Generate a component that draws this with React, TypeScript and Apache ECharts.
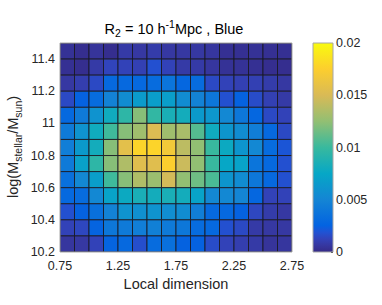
import React, { useEffect, useRef } from 'react';
import * as echarts from 'echarts';

// ---- data ----
const xBinStart = [0.75, 0.875, 1.0, 1.125, 1.25, 1.375, 1.5, 1.625, 1.75, 1.875, 2.0, 2.125, 2.25, 2.375, 2.5, 2.625];
const xBinWidth = 0.125;
// rows listed top (11.4) to bottom (10.2)
const yBinStart = [11.4, 11.3, 11.2, 11.1, 11.0, 10.9, 10.8, 10.7, 10.6, 10.5, 10.4, 10.3, 10.2];
const yBinHeight = 0.1;

const row_11_4 = [0.0004, 0.0002, 0.0005, 0.0002, 0.0008, 0.0007, 0.0009, 0.0007, 0.0007, 0.0007, 0.0006, 0.0003, 0.0003, 0.0004, 0.0003, 0.0003];
const row_11_3 = [0.0003, 0.0002, 0.0008, 0.0013, 0.0012, 0.0011, 0.0018, 0.0012, 0.0008, 0.0008, 0.0006, 0.0004, 0.0004, 0.0003, 0.0002, 0.0002];
const row_11_2 = [0.0007, 0.001, 0.0015, 0.003, 0.003, 0.003, 0.0032, 0.0038, 0.0028, 0.0032, 0.0015, 0.0012, 0.0011, 0.0011, 0.0009, 0.0007];
const row_11_1 = [0.0015, 0.0025, 0.0032, 0.0048, 0.0055, 0.0066, 0.0068, 0.0068, 0.0055, 0.0048, 0.004, 0.0018, 0.0025, 0.0016, 0.0011, 0.0008];
const row_11_0 = [0.003, 0.0042, 0.006, 0.008, 0.0095, 0.0122, 0.0097, 0.0085, 0.0082, 0.0065, 0.0063, 0.0052, 0.004, 0.0028, 0.0015, 0.0012];
const row_10_9 = [0.0042, 0.006, 0.008, 0.0102, 0.0122, 0.013, 0.0152, 0.013, 0.0133, 0.0108, 0.008, 0.0062, 0.0055, 0.0045, 0.003, 0.0015];
const row_10_8 = [0.0045, 0.0065, 0.0082, 0.0122, 0.0157, 0.0178, 0.0178, 0.0168, 0.014, 0.0125, 0.01, 0.0078, 0.0062, 0.0052, 0.0032, 0.002];
const row_10_7 = [0.0042, 0.007, 0.0095, 0.0122, 0.0135, 0.0155, 0.0155, 0.0175, 0.0145, 0.0125, 0.01, 0.0075, 0.0072, 0.0038, 0.003, 0.0018];
const row_10_6 = [0.0035, 0.0052, 0.0068, 0.0102, 0.0122, 0.0135, 0.0128, 0.0148, 0.0125, 0.0115, 0.0105, 0.0062, 0.0055, 0.004, 0.003, 0.0018];
const row_10_5 = [0.003, 0.0032, 0.0052, 0.0072, 0.0078, 0.0085, 0.0082, 0.0085, 0.0082, 0.0072, 0.0052, 0.0052, 0.005, 0.0028, 0.0012, 0.0012];
const row_10_4 = [0.0018, 0.0025, 0.0035, 0.0048, 0.006, 0.0058, 0.006, 0.0056, 0.0055, 0.0045, 0.003, 0.003, 0.0025, 0.0014, 0.0009, 0.0007];
const row_10_3 = [0.0012, 0.0014, 0.0026, 0.004, 0.0042, 0.0045, 0.0046, 0.0042, 0.004, 0.0032, 0.003, 0.0018, 0.0015, 0.0008, 0.0007, 0.0007];
const row_10_2 = [0.0006, 0.0007, 0.0012, 0.0026, 0.003, 0.0017, 0.0032, 0.0035, 0.0025, 0.0025, 0.0016, 0.0012, 0.001, 0.0008, 0.0005, 0.0006];

const densityRows = [row_11_4, row_11_3, row_11_2, row_11_1, row_11_0, row_10_9, row_10_8, row_10_7, row_10_6, row_10_5, row_10_4, row_10_3, row_10_2];

const xTickLabels = ['0.75', '1.25', '1.75', '2.25', '2.75'];
const yTickLabels = ['10.2', '10.4', '10.6', '10.8', '11', '11.2', '11.4'];
const colorbarTickLabels = ['0', '0.005', '0.01', '0.015', '0.02'];
const colorMin = 0;
const colorMax = 0.02;

// ---- style ----
const FONT = '"Liberation Sans", Arial, Helvetica, sans-serif';
const TEXT = '#262626';
const FRAME = '#a6a6a6';

const parulaStops: [number, string][] = [
  [0, '#352a87'], [0.032, '#3637a0'], [0.063, '#3243ba'], [0.095, '#2053d4'], [0.127, '#0363e1'],
  [0.25, '#1485d4'], [0.375, '#06a7c6'], [0.5, '#38b99e'], [0.625, '#92bf73'],
  [0.75, '#d9ba56'], [0.875, '#fcce2e'], [1, '#f9fb0e'],
];

function hexToRgb(h: string) {
  const n = parseInt(h.slice(1), 16);
  return [(n >> 16) & 255, (n >> 8) & 255, n & 255];
}
function parulaAt(t: number) {
  for (let i = 1; i < parulaStops.length; i++) {
    const [t1, c1] = parulaStops[i];
    const [t0, c0] = parulaStops[i - 1];
    if (t <= t1) {
      const f = (t - t0) / (t1 - t0);
      const a = hexToRgb(c0), b = hexToRgb(c1);
      const r = a.map((v, k) => Math.round(v + (b[k] - v) * f));
      return `rgb(${r[0]},${r[1]},${r[2]})`;
    }
  }
  return parulaStops[parulaStops.length - 1][1];
}
const parulaList: string[] = [];
for (let i = 0; i <= 64; i++) parulaList.push(parulaAt(i / 64));

function pickLabel(list: string[], v: number) {
  const s = list.find((l) => Math.abs(parseFloat(l) - v) < 1e-6);
  return s === undefined ? '' : s;
}

export default function App() {
  const ref = useRef<HTMLDivElement>(null);
  useEffect(() => {
    if (!ref.current) return;
    const chart = echarts.init(ref.current, undefined, { renderer: 'svg' });

    const cells: number[][] = [];
    densityRows.forEach((row, r) => {
      row.forEach((v, c) => cells.push([xBinStart[c], yBinStart[r], v]));
    });

    const sub = { fontSize: 10.5, lineHeight: 10, verticalAlign: 'bottom', fontFamily: FONT };
    const sup = { fontSize: 10.5, lineHeight: 12, verticalAlign: 'top', fontFamily: FONT };
    const main = { fontSize: 14.5, lineHeight: 20, fontFamily: FONT };

    chart.setOption({
      animation: false,
      backgroundColor: '#ffffff',
      grid: [
        { left: 60, top: 43, width: 232, height: 209, show: true, borderColor: FRAME, borderWidth: 1, backgroundColor: 'transparent', z: 10 },
        { left: 313, top: 43, width: 20, height: 209, show: true, borderColor: FRAME, borderWidth: 1, backgroundColor: 'transparent', z: 10 },
      ],
      xAxis: [
        {
          gridIndex: 0, type: 'value', min: 0.75, max: 2.75, interval: 0.25,
          axisLine: { show: false }, axisTick: { show: false }, splitLine: { show: false },
          axisLabel: { color: TEXT, fontSize: 12.5, fontFamily: FONT, margin: 7, formatter: (v: number) => pickLabel(xTickLabels, v), showMinLabel: true, showMaxLabel: true },
          name: 'Local dimension', nameLocation: 'middle', nameGap: 24,
          nameTextStyle: { color: TEXT, fontSize: 14.5, fontFamily: FONT },
        },
        { gridIndex: 1, type: 'category', data: ['bar'], show: false },
      ],
      yAxis: [
        {
          gridIndex: 0, type: 'value', min: 10.2, max: 11.5, interval: 0.2,
          axisLine: { show: false }, axisTick: { show: false }, splitLine: { show: false },
          axisLabel: { color: TEXT, fontSize: 12.5, fontFamily: FONT, margin: 5, formatter: (v: number) => pickLabel(yTickLabels, v) },
        },
        {
          gridIndex: 1, type: 'value', min: colorMin, max: colorMax, interval: 0.005, position: 'right',
          axisLine: { show: false }, splitLine: { show: false },
          axisTick: { show: true, inside: true, length: 2, lineStyle: { color: TEXT } },
          axisLabel: { color: TEXT, fontSize: 12.5, fontFamily: FONT, margin: 3, formatter: (v: number) => pickLabel(colorbarTickLabels, v) },
        },
      ],
      visualMap: {
        show: false, type: 'continuous', seriesIndex: 0, dimension: 2,
        min: colorMin, max: colorMax, inRange: { color: parulaList },
      },
      series: [
        {
          type: 'custom', xAxisIndex: 0, yAxisIndex: 0, clip: true,
          encode: { x: 0, y: 1 },
          data: cells,
          renderItem: (params: any, api: any) => {
            const x0 = api.value(0), y0 = api.value(1);
            const p0 = api.coord([x0, y0 + yBinHeight]);
            const p1 = api.coord([x0 + xBinWidth, y0]);
            return {
              type: 'rect',
              shape: { x: p0[0], y: p0[1], width: p1[0] - p0[0], height: p1[1] - p0[1] },
              style: { fill: api.visual('color'), stroke: 'rgba(25,25,35,0.85)', lineWidth: 1 },
            };
          },
        },
        {
          type: 'bar', xAxisIndex: 1, yAxisIndex: 1, barWidth: '100%',
          data: [colorMax],
          itemStyle: {
            color: new echarts.graphic.LinearGradient(0, 1, 0, 0, parulaStops.map(([o, c]) => ({ offset: o, color: c }))),
          },
          silent: true,
        },
      ],
      graphic: [
        {
          type: 'text', x: 174, y: 28.5,
          style: {
            text: '{m|R}{s|2}{m| = 10 h}{p|-1}{m|Mpc , Blue}',
            align: 'center', verticalAlign: 'middle', fill: '#000', fontFamily: FONT, fontSize: 14.5,
            rich: { m: main, s: sub, p: sup },
          },
        },
        {
          type: 'text', x: 13, y: 147, rotation: Math.PI / 2,
          style: {
            text: '{m|log(M}{s|stellar}{m|/M}{s|sun}{m|)}',
            align: 'center', verticalAlign: 'middle', fill: TEXT, fontFamily: FONT, fontSize: 14.5,
            rich: { m: main, s: sub },
          },
        },
      ],
    });
    return () => chart.dispose();
  }, []);
  return <div ref={ref} style={{ position: 'absolute', left: 0, top: 0, width: 382, height: 305 }} />;
}
